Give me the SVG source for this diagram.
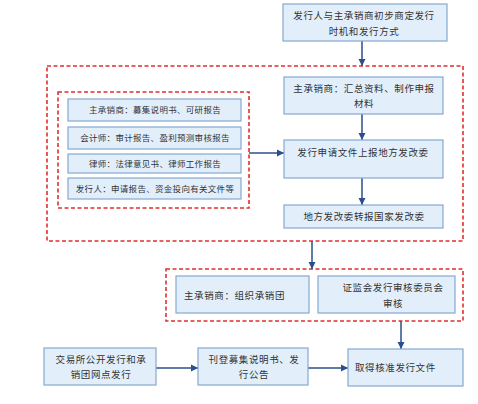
<svg xmlns="http://www.w3.org/2000/svg" width="478" height="404" viewBox="0 0 478 404">
<style>
.box{fill:#e2effb;stroke:#86a9d0;stroke-width:1.2}
.shadow{fill:#c9c9c9}
.red{fill:none;stroke:#e03030;stroke-width:1.6;stroke-dasharray:4 2.5}
.t{font-family:"Noto Sans CJK SC","Noto Sans CJK JP",sans-serif;font-size:9.5px;fill:#333;letter-spacing:0.6px}
.ts{font-family:"Noto Sans CJK SC","Noto Sans CJK JP",sans-serif;font-size:8.5px;fill:#333;letter-spacing:0.3px}
.m{text-anchor:middle}
.c{fill:none;stroke:#2b4f8c;stroke-width:1.5}
</style>
<defs>
<marker id="ah" markerWidth="8" markerHeight="8" refX="7" refY="4" orient="auto" markerUnits="userSpaceOnUse">
<path d="M0,0.5 L7,4 L0,7.5 Z" fill="#2b4f8c"/>
</marker>
</defs>
<rect width="478" height="404" fill="#fff"/>
<g id="groups">
<rect class="red" x="47" y="66" width="416" height="175"/>
<rect class="red" x="58" y="92" width="191" height="116" stroke-width="1.2"/>
<rect class="red" x="166" y="269" width="297" height="52"/>
</g>
<g id="connectors">
<line class="c" x1="362" y1="41" x2="362" y2="66" marker-end="url(#ah)"/>
<line class="c" x1="362" y1="114" x2="362" y2="140" marker-end="url(#ah)"/>
<line class="c" x1="362" y1="178" x2="362" y2="205" marker-end="url(#ah)"/>
<line class="c" x1="249" y1="153" x2="284" y2="153" marker-end="url(#ah)"/>
<line class="c" x1="312" y1="241" x2="312" y2="269" marker-end="url(#ah)"/>
<line class="c" x1="401" y1="321" x2="401" y2="349" marker-end="url(#ah)"/>
<line class="c" x1="156" y1="368" x2="198" y2="368" marker-end="url(#ah)"/>
<line class="c" x1="308" y1="368" x2="348" y2="368" marker-end="url(#ah)"/>
</g>
<g id="n-top">
<rect class="box" x="283" y="4" width="164" height="37"/>
<text class="t m" x="364" y="19">发行人与主承销商初步商定发行</text>
<text class="t m" x="364" y="35">时机和发行方式</text>
</g>
<g id="n-s1">
<rect class="box" x="68" y="99" width="173" height="22"/>
<text class="ts m" x="155" y="113">主承销商：募集说明书、可研报告</text>
</g>
<g id="n-s2">
<rect class="box" x="68" y="127" width="173" height="22"/>
<text class="ts m" x="155" y="141">会计师：审计报告、盈利预测审核报告</text>
</g>
<g id="n-s3">
<rect class="box" x="68" y="154" width="173" height="19"/>
<text class="ts m" x="155" y="167">律师：法律意见书、律师工作报告</text>
</g>
<g id="n-s4">
<rect class="box" x="68" y="178" width="173" height="21"/>
<text class="ts m" x="155" y="192">发行人：申请报告、资金投向有关文件等</text>
</g>
<g id="n-a">
<rect class="box" x="284" y="77" width="159" height="37"/>
<text class="t m" x="364" y="92">主承销商：汇总资料、制作申报</text>
<text class="t m" x="364" y="107">材料</text>
</g>
<g id="n-b">
<rect class="box" x="284" y="140" width="159" height="38"/>
<text class="t m" x="363" y="156">发行申请文件上报地方发改委</text>
</g>
<g id="n-c">
<rect class="box" x="284" y="205" width="159" height="23"/>
<text class="t m" x="364" y="220">地方发改委转报国家发改委</text>
</g>
<g id="n-d">
<rect class="box" x="176" y="276" width="133" height="37"/>
<text class="t" x="184" y="299">主承销商：组织承销团</text>
</g>
<g id="n-e">
<rect class="box" x="318" y="276" width="137" height="37"/>
<text class="t m" x="393" y="291">证监会发行审核委员会</text>
<text class="t m" x="393" y="307">审核</text>
</g>
<g id="n-f">
<rect class="box" x="44" y="348" width="112" height="37"/>
<text class="t m" x="101" y="363">交易所公开发行和承</text>
<text class="t m" x="101" y="378">销团网点发行</text>
</g>
<g id="n-g">
<rect class="box" x="198" y="348" width="110" height="37"/>
<text class="t m" x="254" y="363">刊登募集说明书、发</text>
<text class="t m" x="254" y="378">行公告</text>
</g>
<g id="n-h">
<rect class="box" x="348" y="349" width="115" height="37"/>
<text class="t" x="355" y="371">取得核准发行文件</text>
</g>
</svg>
